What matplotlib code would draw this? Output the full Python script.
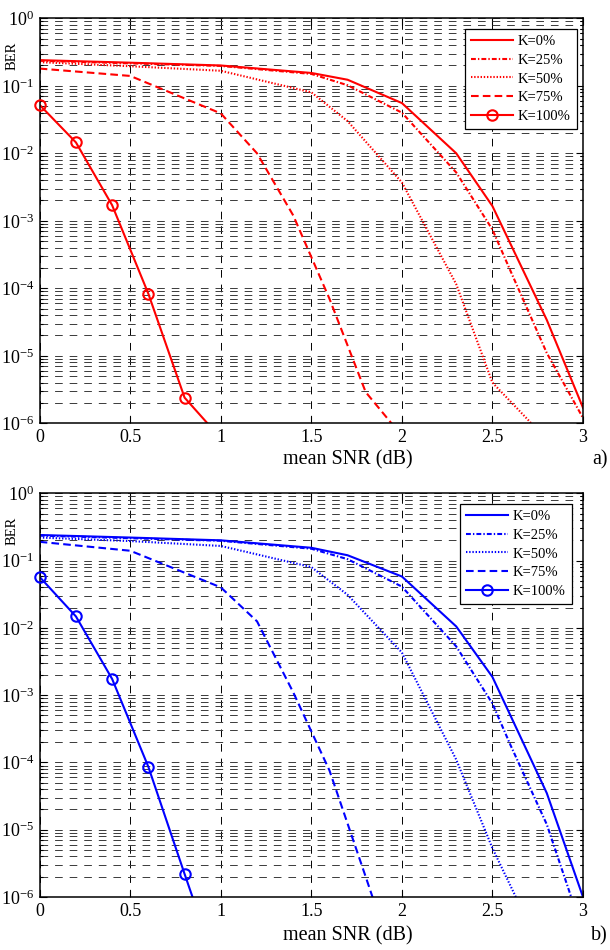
import numpy as np
import matplotlib
matplotlib.use("Agg")
import matplotlib.pyplot as plt
from matplotlib.ticker import LogLocator, NullLocator, FixedLocator, FixedFormatter, LogFormatterMathtext
from matplotlib.legend_handler import HandlerTuple

plt.rcParams['font.family'] = ['Liberation Serif', 'DejaVu Serif']
plt.rcParams['mathtext.fontset'] = 'custom'
plt.rcParams['mathtext.rm'] = 'Liberation Serif'
plt.rcParams['mathtext.it'] = 'Liberation Serif:italic'
plt.rcParams['mathtext.bf'] = 'Liberation Serif:bold'
plt.rcParams['lines.scale_dashes'] = False

# ---------------- data ----------------
labels = ["K=0%", "K=25%", "K=50%", "K=75%", "K=100%"]
x_ticks = [0, 0.5, 1, 1.5, 2, 2.5, 3]
x_tick_labels = ["0", "0.5", "1", "1.5", "2", "2.5", "3"]
y_ticks = [1e-6, 1e-5, 1e-4, 1e-3, 1e-2, 1e-1, 1e0]

# panel a) (red)
snr_a_k0 = [0, 0.5, 1.0, 1.5, 1.7, 2.0, 2.3, 2.5, 2.8, 3.0]
ber_a_k0 = [0.24, 0.22, 0.20, 0.155, 0.123, 0.0555, 0.010, 1.65e-3, 3.4e-5, 1.7e-6]
snr_a_k25 = [0, 0.5, 1.0, 1.5, 1.7, 2.0, 2.3, 2.5, 2.6, 2.8, 3.0]
ber_a_k25 = [0.235, 0.215, 0.197, 0.15, 0.102, 0.040, 5.2e-3, 7.4e-4, 1.8e-4, 1.1e-5, 1.2e-6]
snr_a_k50 = [0, 0.5, 1.0, 1.5, 1.7, 2.0, 2.3, 2.5, 2.7, 2.8]
ber_a_k50 = [0.224, 0.195, 0.167, 0.080, 0.030, 3.7e-3, 1.15e-4, 4.0e-6, 1.1e-6, 5.5e-7]
snr_a_k75 = [0, 0.5, 1.0, 1.2, 1.4, 1.6, 1.8, 2.0]
ber_a_k75 = [0.18, 0.14, 0.039, 0.010, 1.2e-3, 7.0e-5, 2.9e-6, 6.5e-7]
snr_a_k100 = [0, 0.2, 0.4, 0.6, 0.8, 1.0]
ber_a_k100 = [0.052, 0.0145, 1.7e-3, 8.3e-5, 2.4e-6, 6e-7]

# panel b) (blue)
snr_b_k0 = [0, 0.5, 1.0, 1.5, 1.7, 2.0, 2.3, 2.5, 2.8, 3.0]
ber_b_k0 = [0.24, 0.22, 0.20, 0.155, 0.12, 0.058, 0.0105, 1.86e-3, 3.5e-5, 1.0e-6]
snr_b_k25 = [0, 0.5, 1.0, 1.5, 1.7, 2.0, 2.3, 2.5, 2.6, 2.8, 3.0]
ber_b_k25 = [0.235, 0.215, 0.197, 0.15, 0.105, 0.041, 5.3e-3, 7.5e-4, 1.8e-4, 1.2e-5, 3e-7]
snr_b_k50 = [0, 0.5, 1.0, 1.5, 1.7, 2.0, 2.3, 2.5, 2.7]
ber_b_k50 = [0.22, 0.195, 0.165, 0.080, 0.031, 4.3e-3, 1.1e-4, 5.3e-6, 4e-7]
snr_b_k75 = [0, 0.5, 1.0, 1.2, 1.4, 1.6, 1.8, 2.0]
ber_b_k75 = [0.19, 0.14, 0.040, 0.0125, 1.1e-3, 7.6e-5, 2.0e-6, 5e-8]
snr_b_k100 = [0, 0.2, 0.4, 0.6, 0.8, 1.0]
ber_b_k100 = [0.057, 0.0148, 1.74e-3, 8.6e-5, 2.2e-6, 6e-8]

# ---------------- styles ----------------
styles = [
    dict(linestyle='-'),
    dict(linestyle=(0, (3.5, 1.5, 1.0, 1.5))),
    dict(linestyle=(0, (1.0, 1.3))),
    dict(linestyle=(0, (5.5, 3.0))),
    dict(linestyle='-'),
]
YMIN, YMAX = 1e-6, 1.0

fig = plt.figure(figsize=(6.1, 9.5), dpi=100)
W, H = 610.0, 950.0


def fx(px):
    return px / W


def fy(py):
    return 1 - py / H


def make_panel(rect, series, color, legend_anchor, bers_label_y, xlabel_y, tag):
    ax = fig.add_axes(rect)
    ax.set_yscale('log')
    handles = []
    for i, (xs, ys) in enumerate(series):
        ln, = ax.plot(xs, ys, color=color, lw=1.5, **styles[i])
        if i == 4:
            xs_a = np.array(xs)
            ys_a = np.array(ys)
            keep = ys_a >= YMIN
            mk, = ax.plot(xs_a[keep], ys_a[keep], linestyle='none', marker='o',
                          ms=7.5, mfc='none', mec=color, mew=1.5, clip_on=False,
                          zorder=5)
            handles.append((ln, mk))
        else:
            handles.append(ln)
    ax.set_xlim(0, 3)
    ax.set_ylim(YMIN, YMAX)
    ax.xaxis.set_major_locator(FixedLocator(x_ticks))
    ax.xaxis.set_major_formatter(FixedFormatter(x_tick_labels))
    ax.xaxis.set_minor_locator(NullLocator())
    ax.yaxis.set_major_locator(FixedLocator(y_ticks))
    ax.yaxis.set_minor_locator(LogLocator(base=10, subs=np.arange(2, 10), numticks=20))
    ax.yaxis.set_major_formatter(LogFormatterMathtext())
    ax.tick_params(which='both', direction='in', top=True, right=True,
                   labelsize=13, width=0.8)
    ax.tick_params(which='major', length=5, pad=4)
    ax.tick_params(which='minor', length=2.5)
    for sp in ax.spines.values():
        sp.set_linewidth(1.1)
    ax.grid(True, which='major', axis='x', linestyle=(0, (5.5, 5)), color='k', lw=0.7)
    ax.grid(True, which='both', axis='y', linestyle=(0, (5.5, 5)), color='#3a3a3a', lw=0.7)
    leg = ax.legend(handles, labels, loc='upper right',
                    bbox_to_anchor=legend_anchor, bbox_transform=fig.transFigure,
                    borderaxespad=0, fontsize=10.5, handlelength=2.9,
                    handletextpad=0.35, labelspacing=0.37, borderpad=0.4,
                    fancybox=False, framealpha=1, edgecolor='k',
                    handler_map={tuple: HandlerTuple(ndivide=1)})
    leg.get_frame().set_linewidth(0.9)
    fig.text(fx(12), fy(bers_label_y), 'BER', rotation=90, fontsize=10.5,
             ha='center', va='center')
    fig.text(fx(348), fy(xlabel_y), 'mean SNR (dB)', fontsize=14.5,
             ha='center', va='center')
    fig.text(fx(608), fy(xlabel_y), tag, fontsize=14.5, ha='right', va='center')
    return ax


series_a = [(snr_a_k0, ber_a_k0), (snr_a_k25, ber_a_k25), (snr_a_k50, ber_a_k50),
            (snr_a_k75, ber_a_k75), (snr_a_k100, ber_a_k100)]
series_b = [(snr_b_k0, ber_b_k0), (snr_b_k25, ber_b_k25), (snr_b_k50, ber_b_k50),
            (snr_b_k75, ber_b_k75), (snr_b_k100, ber_b_k100)]

left, right = 39.7, 583.0
make_panel([fx(left), fy(423.3), fx(right) - fx(left), (423.3 - 18.3) / H],
           series_a, '#ff0000', (fx(576.7), fy(29.3)), 56, 460, 'a)')
make_panel([fx(left), fy(897.0), fx(right) - fx(left), (897.0 - 493.3) / H],
           series_b, '#0000ff', (fx(571.7), fy(504.3)), 531, 936, 'b)')

fig.savefig('out.png', dpi=100)
